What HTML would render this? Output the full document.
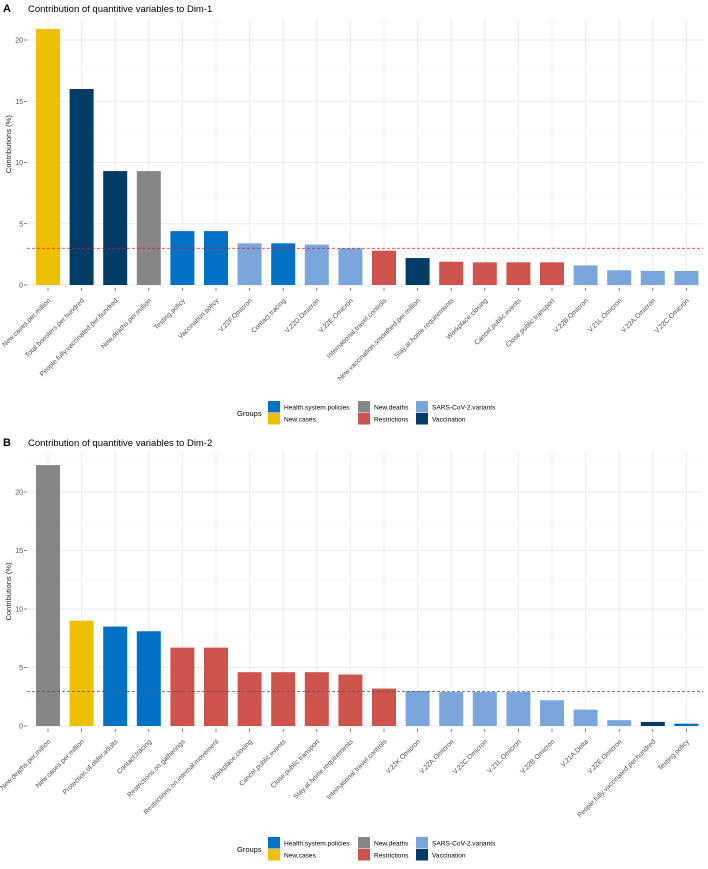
<!DOCTYPE html>
<html><head><meta charset="utf-8"><style>
body{margin:0;background:#fff;font-family:"Liberation Sans",sans-serif}
svg text{font-family:"Liberation Sans",sans-serif}
</style></head><body>
<svg id="chart" width="708" height="864"></svg>
<script>
const colors={"Health.system.policies":"#0072C6","New.cases":"#EFC000","New.deaths":"#868686","Restrictions":"#CD534C","SARS-CoV-2.variants":"#7AA6DC","Vaccination":"#003C67"};
const catsA=["New.cases.per.million","Total.boosters.per.hundred","People.fully.vaccinated.per.hundred","New.deaths.per.million","Testing.policy","Vaccination.policy","V.22F.Omicron","Contact.tracing","V.22D.Omicron","V.22E.Omicron","International.travel.controls","New.vaccination.smoothed.per.million","Stay.at.home.requirements","Workplace.closing","Cancel.public.events","Close.public.transport","V.22B.Omicron","V.21L.Omicron","V.22A.Omicron","V.22C.Omicron"];
const valsA=[20.9,16.0,9.3,9.3,4.4,4.4,3.4,3.4,3.3,3.0,2.8,2.2,1.9,1.85,1.85,1.85,1.6,1.2,1.15,1.15];
const grpA=["New.cases","Vaccination","Vaccination","New.deaths","Health.system.policies","Health.system.policies","SARS-CoV-2.variants","Health.system.policies","SARS-CoV-2.variants","SARS-CoV-2.variants","Restrictions","Vaccination","Restrictions","Restrictions","Restrictions","Restrictions","SARS-CoV-2.variants","SARS-CoV-2.variants","SARS-CoV-2.variants","SARS-CoV-2.variants"];
const catsB=["New.deaths.per.million","New.cases.per.million","Protection.of.older.adults","Contact.tracing","Restrictions.on.gatherings","Restrictions.on.internal.movement","Workplace.closing","Cancel.public.events","Close.public.transport","Stay.at.home.requirements","International.travel.controls","V.21K.Omicron","V.22A.Omicron","V.22C.Omicron","V.21L.Omicron","V.22B.Omicron","V.21A.Delta","V.22E.Omicron","People.fully.vaccinated.per.hundred","Testing.policy"];
const valsB=[22.3,9.0,8.5,8.1,6.7,6.7,4.6,4.6,4.6,4.4,3.2,3.0,2.9,2.9,2.9,2.2,1.4,0.5,0.35,0.2];
const grpB=["New.deaths","New.cases","Health.system.policies","Health.system.policies","Restrictions","Restrictions","Restrictions","Restrictions","Restrictions","Restrictions","Restrictions","SARS-CoV-2.variants","SARS-CoV-2.variants","SARS-CoV-2.variants","SARS-CoV-2.variants","SARS-CoV-2.variants","SARS-CoV-2.variants","SARS-CoV-2.variants","Vaccination","Health.system.policies"];
const yTicks=[0,5,10,15,20];
const threshA=3.0, threshB=2.95;
const svg=document.getElementById('chart');
const NS="http://www.w3.org/2000/svg";
function mk(tag,attrs,parent,text){const e=document.createElementNS(NS,tag);for(const k in attrs)e.setAttribute(k,attrs[k]);if(text!==undefined)e.textContent=text;(parent||svg).appendChild(e);return e;}
function panel(o){
  const g=mk('g',{});
  
  
  const x0=27,x1=703,step=33.6,c0=48;
  const xs=i=>c0+i*step;
  const ys=v=>o.y0-v*o.k;
  const ymax=o.ymax;
  for(let v=2.5;v<=ymax;v+=5){mk('line',{x1:x0,x2:x1,y1:ys(v),y2:ys(v),stroke:'#f3f3f3','stroke-width':0.6},g);}
  yTicks.forEach(v=>{mk('line',{x1:x0,x2:x1,y1:ys(v),y2:ys(v),stroke:'#ebebeb','stroke-width':1},g);
    const t=mk('text',{x:23,y:ys(v)+2.5,'font-size':7,fill:'#4d4d4d','text-anchor':'end'},g,String(v));
    
    mk('line',{x1:24,x2:27,y1:ys(v),y2:ys(v),stroke:'#333','stroke-width':0.6},g);});
  o.cats.forEach((c,i)=>mk('line',{x1:xs(i),x2:xs(i),y1:o.top,y2:o.y0+3,stroke:'#ebebeb','stroke-width':1},g));
  const bw=24;
  o.vals.forEach((v,i)=>{
    const r=mk('rect',{x:xs(i)-bw/2,y:ys(v),width:bw,height:v*o.k,fill:colors[o.grp[i]]},g);
    
    
    mk('line',{x1:xs(i),x2:xs(i),y1:o.y0+3,y2:o.y0+6,stroke:'#333','stroke-width':0.6},g);
    const lx=xs(i)+3,ly=o.y0+16;
    const t=mk('text',{x:lx,y:ly,'font-size':6.8,fill:'#4d4d4d','text-anchor':'end',transform:`rotate(-45 ${lx} ${ly})`},g,o.cats[i]);
    
  });
  const th=mk('line',{x1:x0,x2:x1,y1:ys(o.th),y2:ys(o.th),stroke:o.thColor,'stroke-width':0.8,'stroke-dasharray':'3,2'},g);
  
  const l=mk('text',{x:3,y:o.titleY,'font-size':11,'font-weight':'bold',fill:'#000'},g,o.letter);
  
  const tt=mk('text',{x:28,y:o.titleY,'font-size':9.5,fill:'#000'},g,o.title);
  
  const ya=mk('text',{x:0,y:0,'font-size':7.5,fill:'#222','text-anchor':'middle',transform:`translate(11 ${ys(11.5)}) rotate(-90)`},g,'Contributions (%)');
  
  const L=mk('g',{},g);
  const ly=o.legY;
  mk('text',{x:237,y:ly+15,'font-size':7.5,fill:'#000'},L,'Groups');
  const ent=[["Health.system.policies",268,0],["New.cases",268,1],["New.deaths",358,0],["Restrictions",358,1],["SARS-CoV-2.variants",416,0],["Vaccination",416,1]];
  ent.forEach(e=>{const eg=mk('g',{},L);
    mk('rect',{x:e[1],y:ly+e[2]*12,width:12,height:11.5,fill:colors[e[0]]},eg);
    mk('text',{x:e[1]+16,y:ly+e[2]*12+8.5,'font-size':6.6,fill:'#000'},eg,e[0]);});
}
panel({name:'panel-a-dim1',cats:catsA,vals:valsA,grp:grpA,y0:285,k:12.25,top:20,ymax:22,th:threshA,thColor:'#e31a1c',letter:'A',title:'Contribution of quantitive variables to Dim-1',titleY:12,legY:401});
panel({name:'panel-b-dim2',cats:catsB,vals:valsB,grp:grpB,y0:726,k:11.7,top:452,ymax:23,th:threshB,thColor:'#555',letter:'B',title:'Contribution of quantitive variables to Dim-2',titleY:446,legY:837});
</script>
</body></html>
